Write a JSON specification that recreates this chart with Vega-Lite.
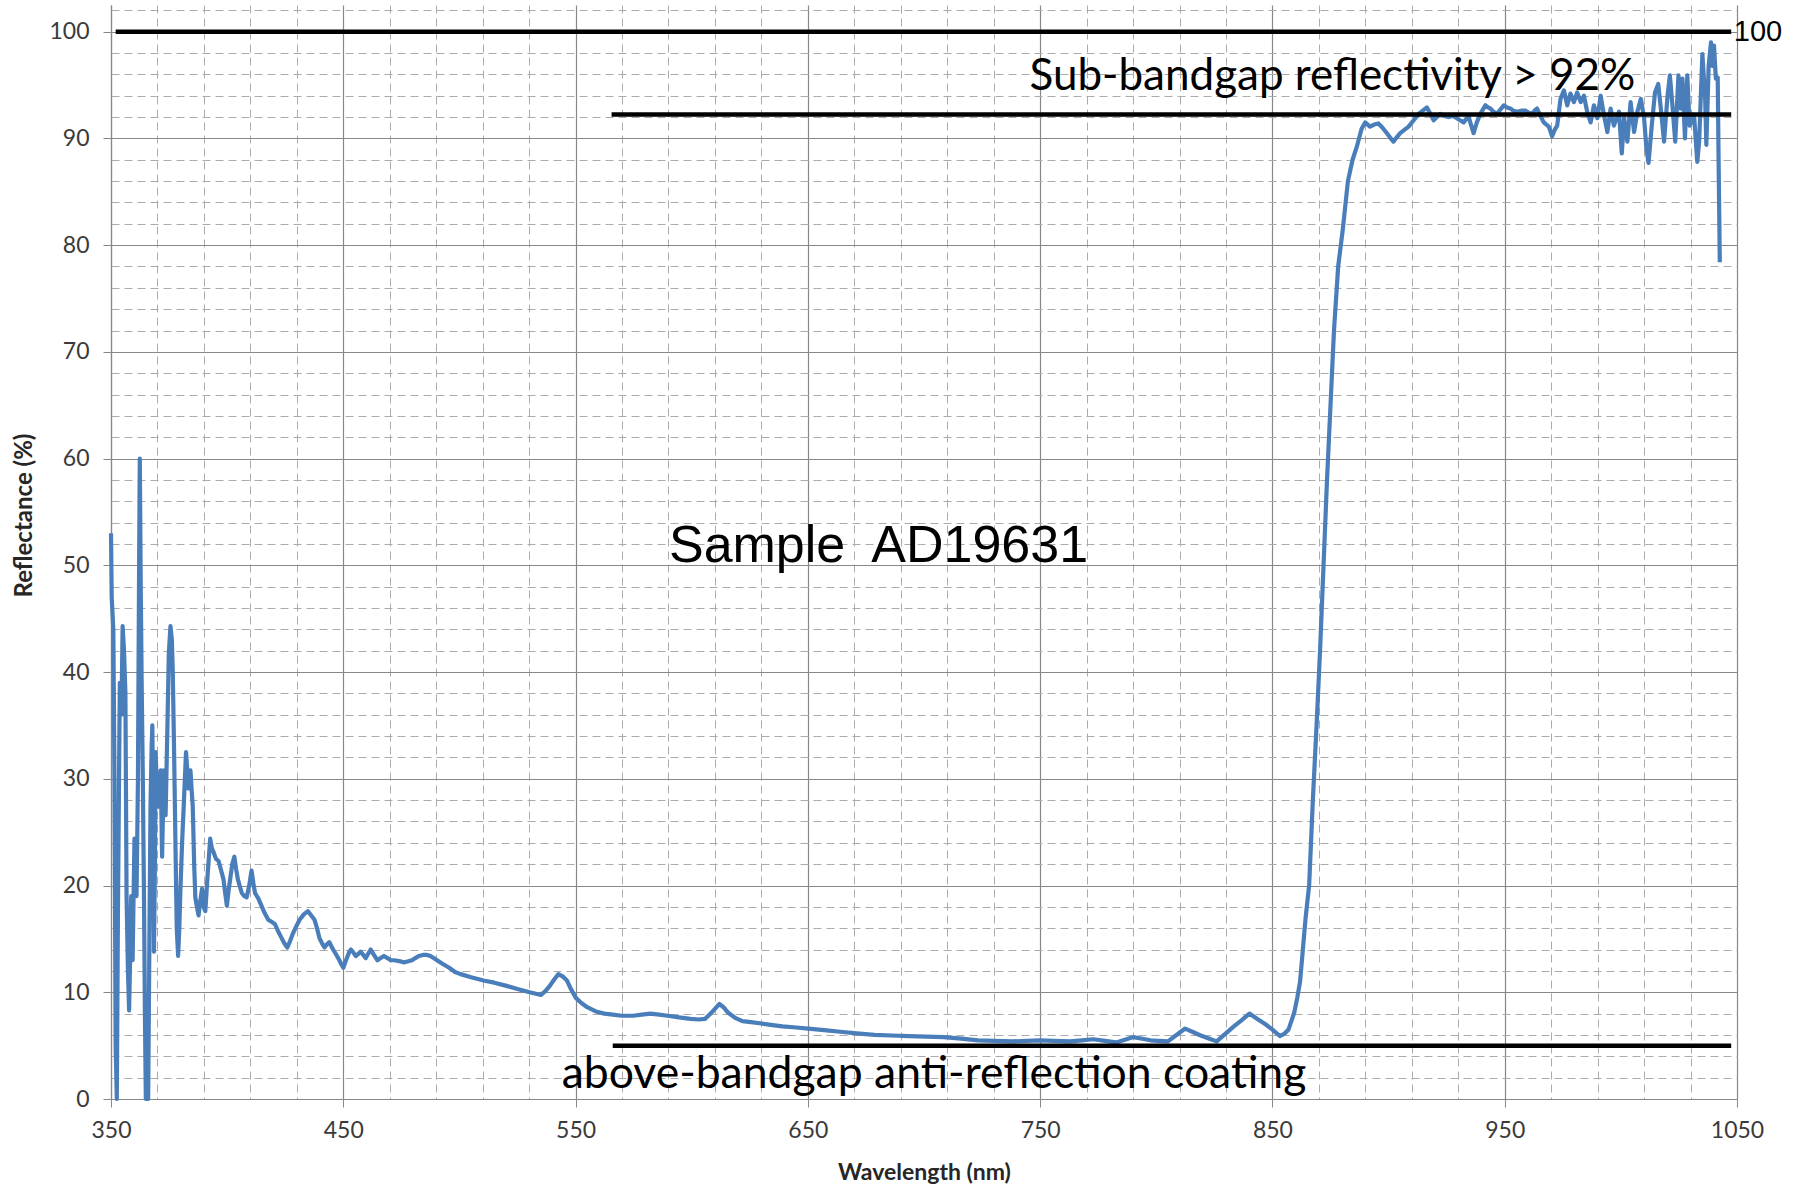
{
  "$schema": "https://vega.github.io/schema/vega-lite/v6.json",
  "width": 1626,
  "height": 1094,
  "autosize": {"type": "none"},
  "padding": {"left": 111, "top": 5, "right": 69, "bottom": 97},
  "background": "white",
  "config": {"view": {"stroke": null}, "font": "Lato"},
  "datasets": {
    "spectrum": [
      {"wavelength": 350, "reflectance": 53},
      {"wavelength": 350.3, "reflectance": 47},
      {"wavelength": 351, "reflectance": 44},
      {"wavelength": 351.5, "reflectance": 30},
      {"wavelength": 352, "reflectance": 5},
      {"wavelength": 352.5, "reflectance": 0},
      {"wavelength": 353, "reflectance": 18},
      {"wavelength": 353.8, "reflectance": 39},
      {"wavelength": 354.5, "reflectance": 36},
      {"wavelength": 355, "reflectance": 44.3},
      {"wavelength": 355.6, "reflectance": 42},
      {"wavelength": 356.2, "reflectance": 38},
      {"wavelength": 356.7, "reflectance": 19},
      {"wavelength": 357.3, "reflectance": 12},
      {"wavelength": 357.8, "reflectance": 8.3},
      {"wavelength": 358.3, "reflectance": 14},
      {"wavelength": 358.7, "reflectance": 19},
      {"wavelength": 359.3, "reflectance": 13},
      {"wavelength": 360.1, "reflectance": 24.4},
      {"wavelength": 360.6, "reflectance": 21},
      {"wavelength": 361, "reflectance": 19},
      {"wavelength": 361.6, "reflectance": 30},
      {"wavelength": 362.1, "reflectance": 50},
      {"wavelength": 362.4, "reflectance": 60},
      {"wavelength": 362.8, "reflectance": 48},
      {"wavelength": 363.2, "reflectance": 39},
      {"wavelength": 363.7, "reflectance": 30},
      {"wavelength": 364.2, "reflectance": 19},
      {"wavelength": 364.6, "reflectance": 8},
      {"wavelength": 365, "reflectance": 0},
      {"wavelength": 366, "reflectance": 0},
      {"wavelength": 366.5, "reflectance": 14},
      {"wavelength": 367, "reflectance": 27.4},
      {"wavelength": 367.5, "reflectance": 33},
      {"wavelength": 367.8, "reflectance": 35},
      {"wavelength": 368.2, "reflectance": 25},
      {"wavelength": 368.5, "reflectance": 13.8},
      {"wavelength": 368.9, "reflectance": 22},
      {"wavelength": 369.2, "reflectance": 32.5},
      {"wavelength": 369.8, "reflectance": 29},
      {"wavelength": 370.4, "reflectance": 27.4},
      {"wavelength": 371, "reflectance": 30},
      {"wavelength": 371.4, "reflectance": 30.8},
      {"wavelength": 372, "reflectance": 22.7},
      {"wavelength": 372.4, "reflectance": 27},
      {"wavelength": 372.8, "reflectance": 30.8},
      {"wavelength": 373.5, "reflectance": 26.6},
      {"wavelength": 374.2, "reflectance": 34},
      {"wavelength": 374.9, "reflectance": 41.8},
      {"wavelength": 375.6, "reflectance": 44.3},
      {"wavelength": 376.2, "reflectance": 43},
      {"wavelength": 376.6, "reflectance": 40},
      {"wavelength": 377.2, "reflectance": 32},
      {"wavelength": 377.8, "reflectance": 23.1},
      {"wavelength": 378.3, "reflectance": 16},
      {"wavelength": 378.9, "reflectance": 13.4},
      {"wavelength": 379.4, "reflectance": 16},
      {"wavelength": 379.9, "reflectance": 19.7},
      {"wavelength": 380.6, "reflectance": 24},
      {"wavelength": 381.3, "reflectance": 27.4},
      {"wavelength": 381.8, "reflectance": 30},
      {"wavelength": 382.3, "reflectance": 32.5},
      {"wavelength": 382.8, "reflectance": 31},
      {"wavelength": 383.2, "reflectance": 29.1},
      {"wavelength": 383.7, "reflectance": 30},
      {"wavelength": 384.2, "reflectance": 30.8},
      {"wavelength": 384.7, "reflectance": 29},
      {"wavelength": 385.2, "reflectance": 27.4},
      {"wavelength": 385.8, "reflectance": 22},
      {"wavelength": 386.3, "reflectance": 18.9},
      {"wavelength": 387, "reflectance": 18},
      {"wavelength": 387.7, "reflectance": 17.2},
      {"wavelength": 388.4, "reflectance": 18.5},
      {"wavelength": 389.2, "reflectance": 19.7},
      {"wavelength": 389.9, "reflectance": 18},
      {"wavelength": 390.6, "reflectance": 17.6},
      {"wavelength": 391.6, "reflectance": 21},
      {"wavelength": 392.7, "reflectance": 24.4},
      {"wavelength": 393.4, "reflectance": 23.5},
      {"wavelength": 394.2, "reflectance": 23.1},
      {"wavelength": 395.2, "reflectance": 22.5},
      {"wavelength": 396.3, "reflectance": 22.3},
      {"wavelength": 397.3, "reflectance": 21.5},
      {"wavelength": 398.4, "reflectance": 20.6},
      {"wavelength": 399.2, "reflectance": 19.2},
      {"wavelength": 399.9, "reflectance": 18.1},
      {"wavelength": 400.6, "reflectance": 19.5},
      {"wavelength": 401.3, "reflectance": 20.6},
      {"wavelength": 402.2, "reflectance": 22},
      {"wavelength": 403.1, "reflectance": 22.7},
      {"wavelength": 403.9, "reflectance": 21.5},
      {"wavelength": 404.6, "reflectance": 20.6},
      {"wavelength": 405.5, "reflectance": 19.9},
      {"wavelength": 406.3, "reflectance": 19.3},
      {"wavelength": 407.4, "reflectance": 19},
      {"wavelength": 408.4, "reflectance": 18.9},
      {"wavelength": 409.5, "reflectance": 20},
      {"wavelength": 410.5, "reflectance": 21.4},
      {"wavelength": 411.3, "reflectance": 20.2},
      {"wavelength": 412, "reflectance": 19.3},
      {"wavelength": 413.4, "reflectance": 18.8},
      {"wavelength": 414.8, "reflectance": 18.1},
      {"wavelength": 416.2, "reflectance": 17.4},
      {"wavelength": 417.7, "reflectance": 16.8},
      {"wavelength": 419.1, "reflectance": 16.6},
      {"wavelength": 420.5, "reflectance": 16.4},
      {"wavelength": 422, "reflectance": 15.7},
      {"wavelength": 423.4, "reflectance": 15.1},
      {"wavelength": 424.6, "reflectance": 14.6},
      {"wavelength": 425.9, "reflectance": 14.2},
      {"wavelength": 427.1, "reflectance": 14.8},
      {"wavelength": 428.3, "reflectance": 15.5},
      {"wavelength": 429.8, "reflectance": 16.2},
      {"wavelength": 431.2, "reflectance": 16.8},
      {"wavelength": 433, "reflectance": 17.3},
      {"wavelength": 434.8, "reflectance": 17.6},
      {"wavelength": 436.2, "reflectance": 17.2},
      {"wavelength": 437.6, "reflectance": 16.8},
      {"wavelength": 438.7, "reflectance": 16},
      {"wavelength": 439.7, "reflectance": 15.1},
      {"wavelength": 440.8, "reflectance": 14.6},
      {"wavelength": 441.9, "reflectance": 14.2},
      {"wavelength": 443, "reflectance": 14.5},
      {"wavelength": 444, "reflectance": 14.7},
      {"wavelength": 445.1, "reflectance": 14.2},
      {"wavelength": 446.2, "reflectance": 13.8},
      {"wavelength": 447.3, "reflectance": 13.4},
      {"wavelength": 448.3, "reflectance": 13},
      {"wavelength": 449.2, "reflectance": 12.6},
      {"wavelength": 450, "reflectance": 12.3},
      {"wavelength": 451, "reflectance": 12.9},
      {"wavelength": 451.9, "reflectance": 13.4},
      {"wavelength": 452.6, "reflectance": 13.8},
      {"wavelength": 453.3, "reflectance": 14},
      {"wavelength": 454.4, "reflectance": 13.7},
      {"wavelength": 455.4, "reflectance": 13.4},
      {"wavelength": 456.5, "reflectance": 13.6},
      {"wavelength": 457.5, "reflectance": 13.8},
      {"wavelength": 458.6, "reflectance": 13.5},
      {"wavelength": 459.7, "reflectance": 13.2},
      {"wavelength": 460.7, "reflectance": 13.6},
      {"wavelength": 461.8, "reflectance": 14},
      {"wavelength": 463.2, "reflectance": 13.5},
      {"wavelength": 464.7, "reflectance": 13},
      {"wavelength": 466.1, "reflectance": 13.2},
      {"wavelength": 467.5, "reflectance": 13.4},
      {"wavelength": 469, "reflectance": 13.2},
      {"wavelength": 470.4, "reflectance": 13},
      {"wavelength": 472, "reflectance": 13},
      {"wavelength": 474.6, "reflectance": 12.9},
      {"wavelength": 476.1, "reflectance": 12.8},
      {"wavelength": 478, "reflectance": 12.9},
      {"wavelength": 479.6, "reflectance": 13},
      {"wavelength": 481, "reflectance": 13.2},
      {"wavelength": 482.5, "reflectance": 13.4},
      {"wavelength": 484.3, "reflectance": 13.5},
      {"wavelength": 486, "reflectance": 13.5},
      {"wavelength": 487.5, "reflectance": 13.4},
      {"wavelength": 488.9, "reflectance": 13.2},
      {"wavelength": 491, "reflectance": 12.9},
      {"wavelength": 493.2, "reflectance": 12.6},
      {"wavelength": 495.6, "reflectance": 12.3},
      {"wavelength": 498.1, "reflectance": 11.9},
      {"wavelength": 500.5, "reflectance": 11.7},
      {"wavelength": 505, "reflectance": 11.4},
      {"wavelength": 510.4, "reflectance": 11.1},
      {"wavelength": 515, "reflectance": 10.9},
      {"wavelength": 520.3, "reflectance": 10.6},
      {"wavelength": 525, "reflectance": 10.3},
      {"wavelength": 530.2, "reflectance": 10},
      {"wavelength": 535.1, "reflectance": 9.75},
      {"wavelength": 537, "reflectance": 10.1},
      {"wavelength": 538.9, "reflectance": 10.6},
      {"wavelength": 540.8, "reflectance": 11.2},
      {"wavelength": 542.6, "reflectance": 11.7},
      {"wavelength": 544.4, "reflectance": 11.5},
      {"wavelength": 546.3, "reflectance": 11.1},
      {"wavelength": 548, "reflectance": 10.3},
      {"wavelength": 550, "reflectance": 9.5},
      {"wavelength": 552.5, "reflectance": 9},
      {"wavelength": 555, "reflectance": 8.6},
      {"wavelength": 558.7, "reflectance": 8.2},
      {"wavelength": 562.4, "reflectance": 8},
      {"wavelength": 566, "reflectance": 7.9},
      {"wavelength": 569.8, "reflectance": 7.8},
      {"wavelength": 574.8, "reflectance": 7.8},
      {"wavelength": 578.5, "reflectance": 7.9},
      {"wavelength": 582.2, "reflectance": 8},
      {"wavelength": 586, "reflectance": 7.9},
      {"wavelength": 589.6, "reflectance": 7.8},
      {"wavelength": 594.5, "reflectance": 7.65},
      {"wavelength": 599.5, "reflectance": 7.5},
      {"wavelength": 603, "reflectance": 7.45},
      {"wavelength": 605.7, "reflectance": 7.5},
      {"wavelength": 607.6, "reflectance": 7.9},
      {"wavelength": 609.4, "reflectance": 8.3},
      {"wavelength": 611.9, "reflectance": 8.9},
      {"wavelength": 613.7, "reflectance": 8.6},
      {"wavelength": 615.6, "reflectance": 8.1},
      {"wavelength": 618.7, "reflectance": 7.6},
      {"wavelength": 621.8, "reflectance": 7.3},
      {"wavelength": 625.5, "reflectance": 7.2},
      {"wavelength": 629.2, "reflectance": 7.1},
      {"wavelength": 634, "reflectance": 6.95},
      {"wavelength": 639.1, "reflectance": 6.8},
      {"wavelength": 645, "reflectance": 6.7},
      {"wavelength": 650.2, "reflectance": 6.6},
      {"wavelength": 657, "reflectance": 6.45},
      {"wavelength": 663.9, "reflectance": 6.3},
      {"wavelength": 671, "reflectance": 6.15},
      {"wavelength": 678.7, "reflectance": 6},
      {"wavelength": 686, "reflectance": 5.95},
      {"wavelength": 693.6, "reflectance": 5.9},
      {"wavelength": 701, "reflectance": 5.85},
      {"wavelength": 708.4, "reflectance": 5.8},
      {"wavelength": 716, "reflectance": 5.65},
      {"wavelength": 723.3, "reflectance": 5.5},
      {"wavelength": 730.5, "reflectance": 5.45},
      {"wavelength": 738.1, "reflectance": 5.4},
      {"wavelength": 744, "reflectance": 5.45},
      {"wavelength": 750, "reflectance": 5.5},
      {"wavelength": 756, "reflectance": 5.45},
      {"wavelength": 762.9, "reflectance": 5.4},
      {"wavelength": 768, "reflectance": 5.5},
      {"wavelength": 772.8, "reflectance": 5.6},
      {"wavelength": 778, "reflectance": 5.45},
      {"wavelength": 782.7, "reflectance": 5.3},
      {"wavelength": 786.5, "reflectance": 5.55},
      {"wavelength": 790.1, "reflectance": 5.8},
      {"wavelength": 794, "reflectance": 5.65},
      {"wavelength": 797.5, "reflectance": 5.5},
      {"wavelength": 801, "reflectance": 5.45},
      {"wavelength": 805, "reflectance": 5.4},
      {"wavelength": 808.7, "reflectance": 6},
      {"wavelength": 812.4, "reflectance": 6.6},
      {"wavelength": 815.5, "reflectance": 6.3},
      {"wavelength": 818.6, "reflectance": 6},
      {"wavelength": 822.3, "reflectance": 5.7},
      {"wavelength": 826, "reflectance": 5.4},
      {"wavelength": 829.7, "reflectance": 6.1},
      {"wavelength": 833.4, "reflectance": 6.8},
      {"wavelength": 836.8, "reflectance": 7.4},
      {"wavelength": 840.1, "reflectance": 8},
      {"wavelength": 843.5, "reflectance": 7.5},
      {"wavelength": 847, "reflectance": 7},
      {"wavelength": 850, "reflectance": 6.5},
      {"wavelength": 853.2, "reflectance": 5.9},
      {"wavelength": 855, "reflectance": 6.1},
      {"wavelength": 856.9, "reflectance": 6.5},
      {"wavelength": 858, "reflectance": 7.2},
      {"wavelength": 859.4, "reflectance": 8.1},
      {"wavelength": 860.7, "reflectance": 9.5},
      {"wavelength": 861.9, "reflectance": 11},
      {"wavelength": 863.1, "reflectance": 14},
      {"wavelength": 864.3, "reflectance": 17},
      {"wavelength": 865.8, "reflectance": 20},
      {"wavelength": 866.6, "reflectance": 24},
      {"wavelength": 867.4, "reflectance": 28},
      {"wavelength": 869, "reflectance": 35},
      {"wavelength": 870.5, "reflectance": 42},
      {"wavelength": 872, "reflectance": 50},
      {"wavelength": 873.5, "reflectance": 58},
      {"wavelength": 875, "reflectance": 65},
      {"wavelength": 876.5, "reflectance": 72},
      {"wavelength": 878.3, "reflectance": 78},
      {"wavelength": 880.3, "reflectance": 81.5},
      {"wavelength": 882.5, "reflectance": 86},
      {"wavelength": 884.5, "reflectance": 88},
      {"wavelength": 886.3, "reflectance": 89.2},
      {"wavelength": 888.4, "reflectance": 90.9},
      {"wavelength": 889.9, "reflectance": 91.5},
      {"wavelength": 892, "reflectance": 91.1},
      {"wavelength": 893.8, "reflectance": 91.3},
      {"wavelength": 895.6, "reflectance": 91.4},
      {"wavelength": 897.4, "reflectance": 91},
      {"wavelength": 899.2, "reflectance": 90.5},
      {"wavelength": 900.6, "reflectance": 90.1},
      {"wavelength": 902.1, "reflectance": 89.7},
      {"wavelength": 903.5, "reflectance": 90.1},
      {"wavelength": 905, "reflectance": 90.5},
      {"wavelength": 906.8, "reflectance": 90.8},
      {"wavelength": 908.6, "reflectance": 91.1},
      {"wavelength": 910.8, "reflectance": 91.7},
      {"wavelength": 912.9, "reflectance": 92.3},
      {"wavelength": 914.7, "reflectance": 92.6},
      {"wavelength": 916.5, "reflectance": 92.9},
      {"wavelength": 918, "reflectance": 92.3},
      {"wavelength": 919.4, "reflectance": 91.7},
      {"wavelength": 920.8, "reflectance": 92},
      {"wavelength": 922.2, "reflectance": 92.3},
      {"wavelength": 924, "reflectance": 92.1},
      {"wavelength": 925.8, "reflectance": 92},
      {"wavelength": 927.6, "reflectance": 92.1},
      {"wavelength": 929.4, "reflectance": 91.9},
      {"wavelength": 930.8, "reflectance": 91.7},
      {"wavelength": 932.3, "reflectance": 91.5},
      {"wavelength": 933.4, "reflectance": 91.8},
      {"wavelength": 934.5, "reflectance": 92},
      {"wavelength": 935.6, "reflectance": 91.2},
      {"wavelength": 936.6, "reflectance": 90.5},
      {"wavelength": 938, "reflectance": 91.5},
      {"wavelength": 939.5, "reflectance": 92.3},
      {"wavelength": 940.6, "reflectance": 92.7},
      {"wavelength": 941.7, "reflectance": 93.1},
      {"wavelength": 942.8, "reflectance": 92.9},
      {"wavelength": 943.8, "reflectance": 92.8},
      {"wavelength": 945.2, "reflectance": 92.5},
      {"wavelength": 946.7, "reflectance": 92.3},
      {"wavelength": 948.1, "reflectance": 92.7},
      {"wavelength": 949.6, "reflectance": 93.1},
      {"wavelength": 951, "reflectance": 92.9},
      {"wavelength": 952.4, "reflectance": 92.8},
      {"wavelength": 953.8, "reflectance": 92.6},
      {"wavelength": 955.3, "reflectance": 92.5},
      {"wavelength": 957.1, "reflectance": 92.6},
      {"wavelength": 958.9, "reflectance": 92.6},
      {"wavelength": 960.4, "reflectance": 92.4},
      {"wavelength": 961.8, "reflectance": 92.3},
      {"wavelength": 962.9, "reflectance": 92.6},
      {"wavelength": 963.9, "reflectance": 92.8},
      {"wavelength": 965.4, "reflectance": 92.1},
      {"wavelength": 966.8, "reflectance": 91.5},
      {"wavelength": 969, "reflectance": 91.1},
      {"wavelength": 970.4, "reflectance": 90.2},
      {"wavelength": 971.5, "reflectance": 90.8},
      {"wavelength": 972.6, "reflectance": 91.2},
      {"wavelength": 974, "reflectance": 93.7},
      {"wavelength": 975.5, "reflectance": 94.5},
      {"wavelength": 976.9, "reflectance": 93.1},
      {"wavelength": 978.3, "reflectance": 94.2},
      {"wavelength": 979.8, "reflectance": 93.4},
      {"wavelength": 981.2, "reflectance": 94.3},
      {"wavelength": 982.7, "reflectance": 93.4},
      {"wavelength": 984.1, "reflectance": 94},
      {"wavelength": 985.5, "reflectance": 92.5},
      {"wavelength": 987, "reflectance": 91.5},
      {"wavelength": 988.4, "reflectance": 93.1},
      {"wavelength": 989.9, "reflectance": 91.9},
      {"wavelength": 991.3, "reflectance": 94},
      {"wavelength": 992.7, "reflectance": 92.2},
      {"wavelength": 994.2, "reflectance": 90.6},
      {"wavelength": 995.6, "reflectance": 92.8},
      {"wavelength": 997, "reflectance": 91.2},
      {"wavelength": 999.2, "reflectance": 92.5},
      {"wavelength": 1000.4, "reflectance": 88.6},
      {"wavelength": 1001.4, "reflectance": 91.9},
      {"wavelength": 1002.8, "reflectance": 89.7},
      {"wavelength": 1004.2, "reflectance": 93.4},
      {"wavelength": 1005.7, "reflectance": 90.6},
      {"wavelength": 1007.1, "reflectance": 92.5},
      {"wavelength": 1008.6, "reflectance": 93.7},
      {"wavelength": 1010, "reflectance": 91.9},
      {"wavelength": 1011, "reflectance": 89.1},
      {"wavelength": 1011.9, "reflectance": 87.7},
      {"wavelength": 1013.3, "reflectance": 91.2},
      {"wavelength": 1014.7, "reflectance": 94.3},
      {"wavelength": 1016.1, "reflectance": 95.1},
      {"wavelength": 1017.2, "reflectance": 92.8},
      {"wavelength": 1018.6, "reflectance": 89.7},
      {"wavelength": 1020.1, "reflectance": 94},
      {"wavelength": 1021.1, "reflectance": 95.9},
      {"wavelength": 1022.2, "reflectance": 93.1},
      {"wavelength": 1023.4, "reflectance": 89.7},
      {"wavelength": 1024.8, "reflectance": 95.9},
      {"wavelength": 1025.8, "reflectance": 92.8},
      {"wavelength": 1026.5, "reflectance": 95.6},
      {"wavelength": 1027.6, "reflectance": 90},
      {"wavelength": 1028.6, "reflectance": 95.9},
      {"wavelength": 1029.6, "reflectance": 91.2},
      {"wavelength": 1031.5, "reflectance": 92.2},
      {"wavelength": 1032.9, "reflectance": 87.8},
      {"wavelength": 1033.7, "reflectance": 89.7},
      {"wavelength": 1035.1, "reflectance": 97.9},
      {"wavelength": 1036.3, "reflectance": 93.7},
      {"wavelength": 1036.8, "reflectance": 89.4},
      {"wavelength": 1037.8, "reflectance": 96.8},
      {"wavelength": 1038.8, "reflectance": 99},
      {"wavelength": 1039.4, "reflectance": 96.8},
      {"wavelength": 1040.1, "reflectance": 98.7},
      {"wavelength": 1040.9, "reflectance": 95.6},
      {"wavelength": 1041.7, "reflectance": 95.7},
      {"wavelength": 1042.1, "reflectance": 87.5},
      {"wavelength": 1042.6, "reflectance": 78.4}
    ],
    "levels": [
      {"start": 352, "end": 1047.5, "level": 100},
      {"start": 565.5, "end": 1047.5, "level": 92.25},
      {"start": 566, "end": 1047.5, "level": 5}
    ]
  },
  "layer": [
    {
      "data": {"name": "spectrum"},
      "mark": {"type": "line", "opacity": 0},
      "encoding": {
        "x": {
          "field": "wavelength", "type": "quantitative",
          "scale": {"domain": [350, 1050], "nice": false, "zero": false},
          "axis": {
            "orient": "bottom",
            "values": [370, 390, 410, 430, 470, 490, 510, 530, 570, 590, 610, 630, 670, 690, 710, 730, 770, 790, 810, 830, 870, 890, 910, 930, 970, 990, 1010, 1030],
            "grid": true, "gridDash": [8, 5], "gridColor": "#ababab", "gridWidth": 1,
            "labels": false, "ticks": false, "domain": false, "title": null
          }
        },
        "y": {
          "field": "reflectance", "type": "quantitative",
          "scale": {"domain": [0, 102.5], "nice": false, "zero": false},
          "axis": {
            "orient": "left",
            "values": [2, 4, 6, 8, 12, 14, 16, 18, 22, 24, 26, 28, 32, 34, 36, 38, 42, 44, 46, 48, 52, 54, 56, 58, 62, 64, 66, 68, 72, 74, 76, 78, 82, 84, 86, 88, 92, 94, 96, 98, 102],
            "grid": true, "gridDash": [8, 5], "gridColor": "#ababab", "gridWidth": 1,
            "labels": false, "ticks": false, "domain": false, "title": null
          }
        }
      }
    },
    {
      "data": {"name": "spectrum"},
      "mark": {"type": "line", "color": "#4a7ebb", "strokeWidth": 4.2, "strokeJoin": "round"},
      "encoding": {
        "x": {
          "field": "wavelength", "type": "quantitative",
          "scale": {"domain": [350, 1050], "nice": false, "zero": false},
          "axis": {
            "orient": "bottom",
            "values": [350, 450, 550, 650, 750, 850, 950, 1050],
            "format": "d", "labelFlush": false,
            "grid": true, "gridColor": "#888888", "gridWidth": 1.2,
            "domainColor": "#888888", "domainWidth": 1.2,
            "ticks": true, "tickColor": "#888888", "tickSize": 8,
            "labelFont": "Lato", "labelFontSize": 23, "labelColor": "#3a3a3a", "labelPadding": 12,
            "title": "Wavelength (nm)", "titleFont": "Lato", "titleFontSize": 23, "titleFontWeight": "bold",
            "titleColor": "#262626", "titleY": 73, "titleBaseline": "middle"
          }
        },
        "y": {
          "field": "reflectance", "type": "quantitative",
          "scale": {"domain": [0, 102.5], "nice": false, "zero": false},
          "axis": {
            "orient": "left",
            "values": [0, 10, 20, 30, 40, 50, 60, 70, 80, 90, 100],
            "format": "d", "labelFlush": false,
            "grid": true, "gridColor": "#888888", "gridWidth": 1.2,
            "domainColor": "#888888", "domainWidth": 1.2,
            "ticks": true, "tickColor": "#888888", "tickSize": 8,
            "labelFont": "Lato", "labelFontSize": 23, "labelColor": "#3a3a3a", "labelPadding": 14,
            "title": "Reflectance (%)", "titleFont": "Lato", "titleFontSize": 24, "titleFontWeight": "bold",
            "titleColor": "#262626", "titleX": -87, "titleY": 510, "titleAngle": 270,
            "titleAlign": "center", "titleBaseline": "middle"
          }
        }
      }
    },
    {
      "data": {"name": "levels"},
      "mark": {"type": "rule", "color": "#000000", "strokeWidth": 4.5},
      "encoding": {
        "x": {"field": "start", "type": "quantitative", "axis": null},
        "x2": {"field": "end"},
        "y": {"field": "level", "type": "quantitative", "axis": null}
      }
    },
    {
      "data": {"values": [{"label": "Sample\u00a0 AD19631", "wavelength": 590.2, "reflectance": 50.3}]},
      "mark": {"type": "text", "font": "Liberation Sans", "fontSize": 52, "color": "#000000", "align": "left", "baseline": "alphabetic"},
      "encoding": {
        "x": {"field": "wavelength", "type": "quantitative", "axis": null},
        "y": {"field": "reflectance", "type": "quantitative", "axis": null},
        "text": {"field": "label"}
      }
    },
    {
      "data": {"values": [{"label": "Sub-bandgap reflectivity > 92%", "wavelength": 875.8, "reflectance": 94.5}]},
      "mark": {"type": "text", "font": "Lato", "fontSize": 44, "color": "#000000", "align": "center", "baseline": "alphabetic"},
      "encoding": {
        "x": {"field": "wavelength", "type": "quantitative", "axis": null},
        "y": {"field": "reflectance", "type": "quantitative", "axis": null},
        "text": {"field": "label"}
      }
    },
    {
      "data": {"values": [{"label": "above-bandgap anti-reflection coating", "wavelength": 704.3, "reflectance": 1.0}]},
      "mark": {"type": "text", "font": "Lato", "fontSize": 44.5, "color": "#000000", "align": "center", "baseline": "alphabetic"},
      "encoding": {
        "x": {"field": "wavelength", "type": "quantitative", "axis": null},
        "y": {"field": "reflectance", "type": "quantitative", "axis": null},
        "text": {"field": "label"}
      }
    },
    {
      "data": {"values": [{"label": "100", "wavelength": 1048.6, "reflectance": 100}]},
      "mark": {"type": "text", "font": "Liberation Sans", "fontSize": 29, "color": "#000000", "align": "left", "baseline": "middle"},
      "encoding": {
        "x": {"field": "wavelength", "type": "quantitative", "axis": null},
        "y": {"field": "reflectance", "type": "quantitative", "axis": null},
        "text": {"field": "label"}
      }
    }
  ],
  "resolve": {"axis": {"x": "independent", "y": "independent"}}
}
